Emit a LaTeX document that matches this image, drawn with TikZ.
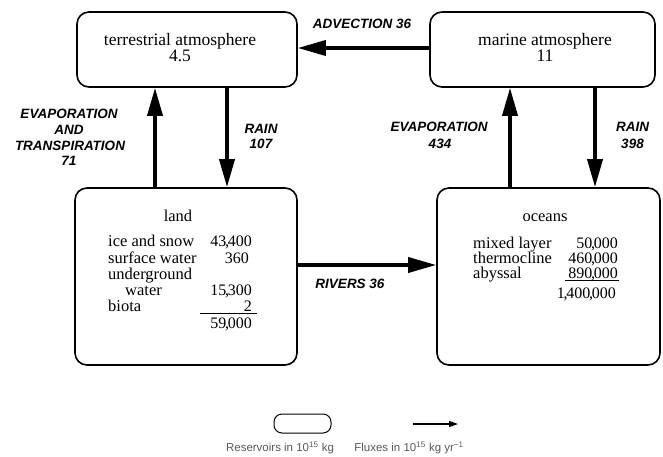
\documentclass[tikz,border=0pt]{standalone}
\usepackage{fontspec}
\setmainfont{Liberation Serif}
\newfontfamily\labfont{Liberation Sans}
\usetikzlibrary{arrows.meta}
\newcommand\thsep{\kern-1.3pt,\kern-1.2pt}
\begin{document}
\begin{tikzpicture}[x=1pt,y=-1pt,
  box/.style={draw, line width=1.6pt, rounded corners=12pt, inner sep=0pt},
  flux/.style={line width=3.6pt, -{Triangle[length=28pt,width=15pt]}},
  lab/.style={font=\labfont\bfseries\itshape\fontsize{13.5}{15}\selectfont, align=center, inner sep=0pt},
  txt/.style={font=\fontsize{16.5}{16}\selectfont, inner sep=0pt},
  big/.style={font=\fontsize{17.5}{15}\selectfont, inner sep=0pt, align=center, anchor=base},
  num/.style={font=\fontsize{16}{16}\selectfont, inner sep=0pt, anchor=base east},
  lw/.style={txt, anchor=base west},
  lc/.style={txt, anchor=base},
  leg/.style={font=\labfont\fontsize{11.5}{13}\selectfont, text=black!65, inner sep=0pt, anchor=base}
]
\fill[white] (0,0) rectangle (663,457);
\path[use as bounding box] (0,0) rectangle (663,457);

% reservoirs
\node[box, minimum width=220pt, minimum height=75pt] (ta) at (187,49.5) {};
\node[box, minimum width=225pt, minimum height=75pt] (ma) at (542.5,49.5) {};
\node[box, minimum width=222pt, minimum height=177pt] (land) at (186,276.5) {};
\node[box, minimum width=223pt, minimum height=177pt] (oc) at (548.5,276.5) {};

% atmosphere texts
\node[big] (tat) at (180,61.7) {terrestrial atmosphere\\4.5};
\node[big] (mat) at (545,61.7) {marine atmosphere\\11};

% land
\node[lc] (landt) at (178,221.7) {land};
\node[lw] (l1) at (108,246.7) {ice and snow};
\node[num] (v1) at (252,246.7) {43\thsep400};
\node[lw] (l2) at (108,263.0) {surface water};
\node[num] (v2) at (249,263.0) {360};
\node[lw] (l3) at (108,279.3) {underground};
\node[lw] (l4) at (125,295.3) {water};
\node[num] (v4) at (252,295.3) {15\thsep300};
\node[lw] (l5) at (108,311.5) {biota};
\node[num] (v5) at (252,311.5) {2};
\draw[line width=0.9pt] (200,313.5) -- (257,313.5);
\node[num] (v6) at (252,328.5) {59\thsep000};

% oceans
\node[lc] (oct) at (545,221.7) {oceans};
\node[lw] (o1) at (473,248.3) {mixed layer};
\node[num] (w1) at (618,248.3) {50\thsep000};
\node[lw] (o2) at (473,263.5) {thermocline};
\node[num] (w2) at (618,263.5) {460\thsep000};
\node[lw] (o3) at (473,278.5) {abyssal};
\node[num] (w3) at (618,278.5) {890\thsep000};
\draw[line width=0.9pt] (565,280.5) -- (619,280.5);
\node[num] (w4) at (616,298.3) {1\thsep400\thsep000};

% fluxes
\draw[flux] ([xshift=-31pt]land.north) -- ([xshift=-31pt]land.north |- ta.south);
\draw[flux] ([xshift=40pt]ta.south) -- ([xshift=40pt]ta.south |- land.north);
\draw[flux] ([xshift=-38.5pt]oc.north) -- ([xshift=-38.5pt]oc.north |- ma.south);
\draw[flux] ([xshift=52.5pt]ma.south) -- ([xshift=52.5pt]ma.south |- oc.north);
\draw[flux] ([yshift=1.5pt]ma.west) -- ([yshift=1.5pt]ma.west -| ta.east);
\draw[flux] ([yshift=11.5pt]land.east) -- ([yshift=11.5pt]land.east -| oc.west);

% flux labels
\node[lab, anchor=base] (adv) at (362,28.3) {ADVECTION 36};
\node[lab, anchor=base] (riv) at (350,288.3) {RIVERS 36};
\node[lab, anchor=base] (ev1) at (69,118.3) {EVAPORATION};
\node[lab, anchor=base] (ev1b) at (69,134.3) {AND};
\node[lab, anchor=base] (ev1c) at (70,150) {TRANSPIRATION};
\node[lab, anchor=base] (ev1d) at (69,165.7) {71};
\node[lab, anchor=base] (r1) at (261,133.3) {RAIN};
\node[lab, anchor=base] (r1b) at (261,148.3) {107};
\node[lab, anchor=base] (ev2) at (439,131.7) {EVAPORATION};
\node[lab, anchor=base] (ev2b) at (440,148.3) {434};
\node[lab, anchor=base] (r2) at (632.5,131.7) {RAIN};
\node[lab, anchor=base] (r2b) at (632.5,148.3) {398};

% legend
\node[draw, line width=1pt, rounded corners=8pt, minimum width=57pt, minimum height=19pt, inner sep=0pt] (legbox) at (302.5,423.5) {};
\coordinate (legA) at (413,424);
\coordinate (legB) at (458,424);
\draw[line width=1.1pt, -{Triangle[length=9pt,width=6pt]}] (legA) -- (legB);
\node[leg] (legr) at (280,451.7) {Reservoirs in 10\textsuperscript{15} kg};
\node[leg] (legf) at (409,451.7) {Fluxes in 10\textsuperscript{15} kg yr\textsuperscript{−1}};
\end{tikzpicture}
\end{document}
